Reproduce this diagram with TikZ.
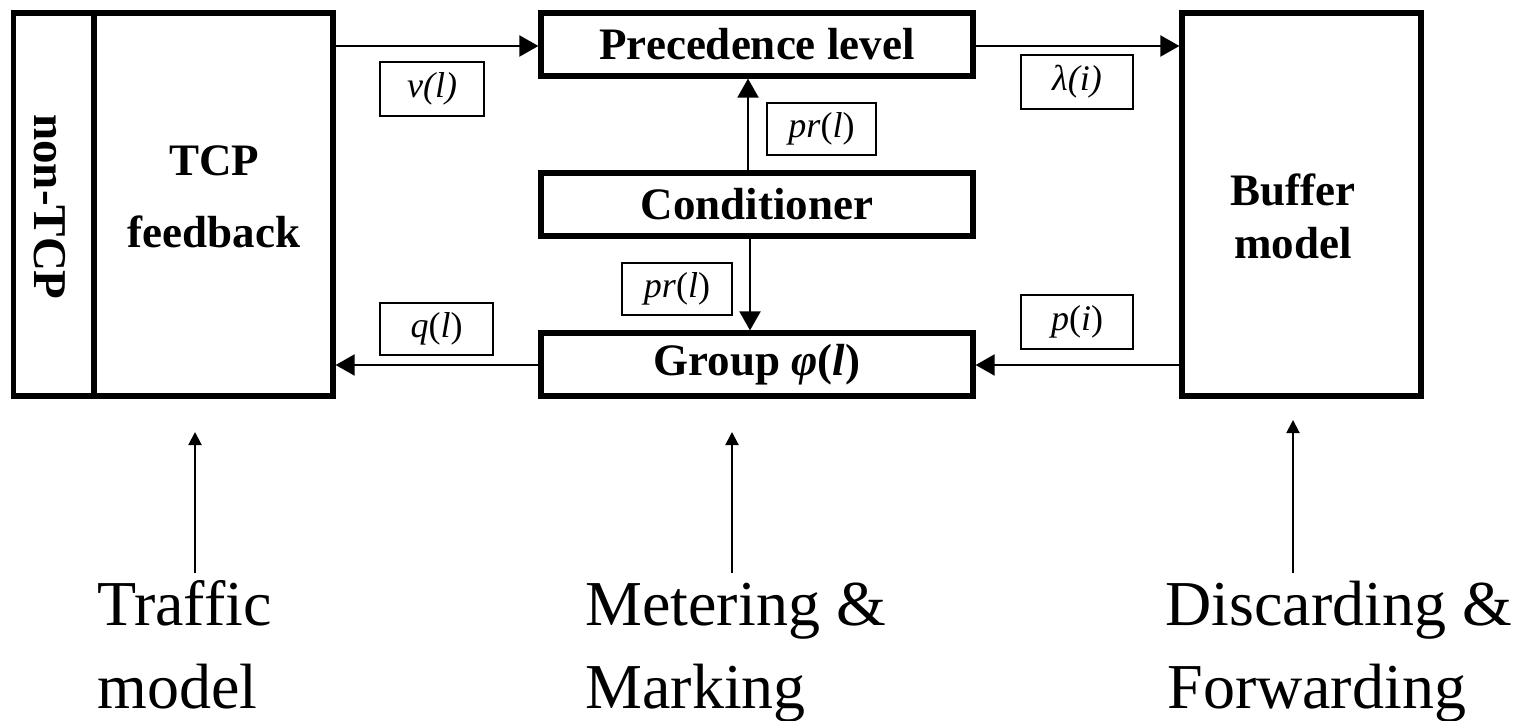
\documentclass[tikz,border=0pt]{standalone}
\usepackage{fontspec}
\setmainfont{Liberation Serif}
\usetikzlibrary{arrows.meta}

\begin{document}
\begin{tikzpicture}[x=0.5pt,y=-0.5pt,
  blk/.style={draw, line width=2.6pt, inner sep=0pt},
  tag/.style={draw, line width=0.7pt, inner sep=0pt,
              font=\fontsize{18}{21}\selectfont},
  flow/.style={line width=1pt, -{Triangle[length=9.5pt,width=10.5pt]}},
  pointer/.style={line width=1pt, -{Triangle[length=6.5pt,width=6.5pt]}},
  boldtxt/.style={font=\fontsize{22.5}{27}\selectfont\bfseries, inner sep=0pt, align=center},
  caption/.style={font=\fontsize{32}{38}\selectfont, anchor=base west, inner sep=0pt}
]
\useasboundingbox (0,0) rectangle (1519,721);

% main blocks
\node[blk, minimum width=40.25pt, minimum height=191.5pt] (nontcp) at (53.75,204.5) {};
\node[blk, minimum width=119.5pt, minimum height=191.5pt] (tcp) at (213.5,204.5) {};
\node[blk, minimum width=216pt, minimum height=31.5pt, boldtxt] (prec) at (757,44.5) {Precedence level};
\node[blk, minimum width=216pt, minimum height=31.5pt, boldtxt] (cond) at (757,204.5) {Conditioner};
\node[blk, minimum width=216pt, minimum height=31.5pt, boldtxt] (group) at (757,364.5)
  {Group \textit{φ}(\textit{l})};
\node[blk, minimum width=119.5pt, minimum height=191.5pt] (buffer) at (1301.5,204.5) {};

% block texts
\node[boldtxt, rotate=-90, font=\fontsize{23.5}{27}\selectfont\bfseries] (nontcptxt) at (50,207) {non-TCP};
\node[boldtxt, font=\fontsize{22.5}{36}\selectfont\bfseries] (tcptxt) at (214,197) {TCP\\feedback};
\node[boldtxt, font=\fontsize{22.5}{26.5}\selectfont\bfseries] (buftxt) at (1293,216) {Buffer\\model};

% signal tags
\node[tag, minimum width=52pt, minimum height=27pt] (nu) at (432,89) {\textit{ν(l)}};
\node[tag, minimum width=56.5pt, minimum height=26pt] (q) at (436.5,329) {\textit{q}(\textit{l})};
\node[tag, minimum width=54.5pt, minimum height=26pt] (pru) at (821.5,129) {\textit{pr}(\textit{l})};
\node[tag, minimum width=55pt, minimum height=26pt] (prd) at (677,289) {\textit{pr}(\textit{l})};
\node[tag, minimum width=56pt, minimum height=27pt] (lam) at (1077,82) {\textit{λ(i)}};
\node[tag, minimum width=56pt, minimum height=27pt] (p) at (1077,322) {\textit{p}(\textit{i})};

% reference lines for connectors
\coordinate (ytop) at (0,46);
\coordinate (ybot) at (0,365);
\coordinate (xup) at (748,0);
\coordinate (xdn) at (750,0);

\draw[flow] (tcp.east |- ytop) -- (prec.west |- ytop);
\draw[flow] (prec.east |- ytop) -- (buffer.west |- ytop);
\draw[flow] (cond.north -| xup) -- (prec.south -| xup);
\draw[flow] (cond.south -| xdn) -- (group.north -| xdn);
\draw[flow] (buffer.west |- ybot) -- (group.east |- ybot);
\draw[flow] (group.west |- ybot) -- (tcp.east |- ybot);

% captions
\node[caption] (c1a) at (97,625) {Traffic};
\node[caption] (c1b) at (97,708) {model};
\node[caption] (c2a) at (585,625) {Metering \&};
\node[caption] (c2b) at (585,708) {Marking};
\node[caption] (c3a) at (1165,625) {Discarding \&};
\node[caption] (c3b) at (1167,708) {Forwarding};

\coordinate (a1s) at (195,573); \coordinate (a1e) at (195,432);
\coordinate (a2s) at (732,573); \coordinate (a2e) at (732,432);
\coordinate (a3s) at (1293,573); \coordinate (a3e) at (1293,420);
\draw[pointer] (a1s) -- (a1e);
\draw[pointer] (a2s) -- (a2e);
\draw[pointer] (a3s) -- (a3e);
\end{tikzpicture}
\end{document}
